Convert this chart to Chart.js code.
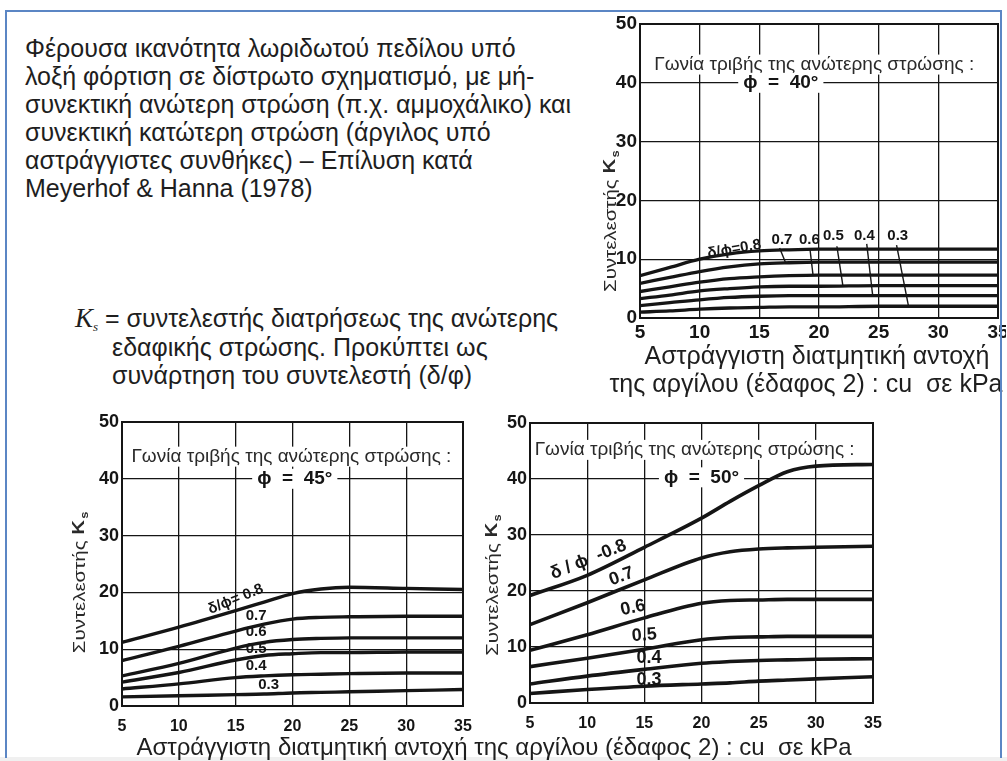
<!DOCTYPE html>
<html>
<head>
<meta charset="utf-8">
<script src="https://cdn.jsdelivr.net/npm/chart.js@4.4.1/dist/chart.umd.min.js"></script>
<style>
  body { margin: 0; background: #fff; font-family: "Liberation Sans", Arial, sans-serif; }
  #page { position: relative; width: 1007px; height: 761px; overflow: hidden; background: #fff; }
  #frame { position: absolute; left: 5px; top: 10px; width: 993px; height: 746px; border: 2px solid #5b86c4; border-bottom: none; z-index: 5; pointer-events: none; }
  #strip { position: absolute; left: 0; top: 757px; width: 1007px; height: 4px; background: #f0f0f0; }
  canvas { position: absolute; }
  .t { position: absolute; color: #1e1e1e; white-space: nowrap; }
  .intro { left: 25px; top: 34px; font-size: 25px; line-height: 28px; }
  .ks { left: 75px; top: 304px; font-size: 25px; line-height: 28.5px; }
  .ks .k { font-family: "Liberation Serif", "Times New Roman", serif; font-style: italic; font-size: 27px; line-height: 0; }
  .ks .k sub { font-size: 13px; line-height: 0; vertical-align: baseline; position: relative; top: 4px; }
  .ctr { transform: translateX(-50%); text-align: center; font-size: 25px; line-height: 28px; }
</style>
</head>
<body>
<div id="page">
  <div id="frame"></div>
  <div id="strip"></div>

  <div class="t intro">Φέρουσα ικανότητα λωριδωτού πεδίλου υπό<br>λοξή φόρτιση σε δίστρωτο σχηματισμό, με μή-<br>συνεκτική ανώτερη στρώση (π.χ. αμμοχάλικο) και<br>συνεκτική κατώτερη στρώση (άργιλος υπό<br>αστράγγιστες συνθήκες) – Επίλυση κατά<br>Meyerhof &amp; Hanna (1978)</div>

  <div class="t ks"><span class="k">K<sub>s</sub></span> = συντελεστής διατρήσεως της ανώτερης<br><span style="padding-left:37px">εδαφικής στρώσης. Προκύπτει ως</span><br><span style="padding-left:37px">συνάρτηση του συντελεστή (δ/φ)</span></div>

  <canvas id="c40" width="428" height="332" style="left:578px;top:12px"></canvas>
  <canvas id="c45" width="430" height="335" style="left:50px;top:408px"></canvas>
  <canvas id="c50" width="430" height="335" style="left:470px;top:408px"></canvas>

  <div class="t ctr" style="left:817px;top:341px">Αστράγγιστη διατμητική αντοχή</div>
  <div class="t ctr" style="left:806px;top:369px">της αργίλου (έδαφος 2) : cu&nbsp; σε kPa</div>
  <div class="t ctr" style="left:494px;top:733px;font-size:24px">Αστράγγιστη διατμητική αντοχή της αργίλου (έδαφος 2) : cu&nbsp; σε kPa</div>
</div>

<script>
// undrained shear strength cu (kPa) sampled along each chart
const cu40 = [5, 7.5, 10, 12.5, 15, 17.5, 20, 25, 30, 35];
const cu45 = [5, 10, 15, 17.5, 20, 22.5, 25, 30, 35];
const cu50 = [5, 10, 15, 20, 22.5, 25, 27.5, 30, 35];

const ratios = ["0.8", "0.7", "0.6", "0.5", "0.4", "0.3"];

// Ks curves, phi = 40 deg
const ks40_08 = [7.2, 8.6, 10.0, 10.9, 11.4, 11.6, 11.7, 11.7, 11.7, 11.7];
const ks40_07 = [5.9, 6.9, 7.9, 8.7, 9.2, 9.4, 9.5, 9.5, 9.5, 9.5];
const ks40_06 = [4.5, 5.3, 6.1, 6.7, 7.0, 7.2, 7.3, 7.3, 7.3, 7.3];
const ks40_05 = [3.3, 3.9, 4.6, 5.0, 5.3, 5.4, 5.4, 5.5, 5.5, 5.5];
const ks40_04 = [2.1, 2.6, 3.1, 3.5, 3.7, 3.8, 3.8, 3.8, 3.8, 3.8];
const ks40_03 = [1.0, 1.2, 1.5, 1.7, 1.8, 1.9, 1.9, 2.0, 2.0, 2.0];

// Ks curves, phi = 45 deg
const ks45_08 = [11.2, 13.9, 16.8, 18.3, 19.8, 20.6, 20.9, 20.7, 20.5];
const ks45_07 = [8.0, 10.5, 13.2, 14.4, 15.3, 15.6, 15.7, 15.8, 15.8];
const ks45_06 = [5.3, 7.5, 10.2, 11.2, 11.7, 11.9, 12.0, 12.0, 12.0];
const ks45_05 = [4.2, 5.9, 8.1, 8.9, 9.2, 9.4, 9.4, 9.5, 9.5];
const ks45_04 = [3.0, 3.9, 5.0, 5.3, 5.5, 5.6, 5.7, 5.8, 5.8];
const ks45_03 = [1.6, 1.8, 2.0, 2.1, 2.3, 2.4, 2.5, 2.7, 2.9];

// Ks curves, phi = 50 deg
const ks50_08 = [19.2, 22.8, 27.8, 33.0, 36.0, 38.8, 41.3, 42.3, 42.6];
const ks50_07 = [14.0, 17.9, 22.0, 25.9, 27.0, 27.5, 27.7, 27.8, 28.0];
const ks50_06 = [9.4, 12.2, 15.2, 17.8, 18.3, 18.4, 18.5, 18.5, 18.5];
const ks50_05 = [6.5, 8.0, 9.6, 11.3, 11.7, 11.8, 11.9, 11.9, 11.9];
const ks50_04 = [3.4, 4.8, 6.0, 7.1, 7.4, 7.6, 7.7, 7.8, 7.9];
const ks50_03 = [1.7, 2.4, 3.0, 3.4, 3.6, 3.9, 4.1, 4.3, 4.7];

const xTicks = [5, 10, 15, 20, 25, 30, 35];
const yTicks = [0, 10, 20, 30, 40, 50];

const angleText = "Γωνία τριβής της ανώτερης στρώσης :";
const yTitle = "Συντελεστής ";

const ink = "#151515";
const sans = "'Liberation Sans', Arial, sans-serif";

// draws frame, texts, curve labels and leaders on top of the plot
const decor = {
  id: "decor",
  afterDraw(chart, args, o) {
    const { ctx, chartArea: a } = chart;
    const x = chart.scales.x, y = chart.scales.y;
    const px = v => x.getPixelForValue(v);
    const py = v => y.getPixelForValue(v);
    ctx.save();

    ctx.strokeStyle = ink;
    ctx.lineWidth = 2;
    ctx.strokeRect(a.left, a.top, a.right - a.left, a.bottom - a.top);

    ctx.textBaseline = "middle";
    ctx.textAlign = "center";

    // heading inside plot
    ctx.font = "19px " + sans;
    let w = ctx.measureText(angleText).width;
    ctx.fillStyle = "#fff";
    ctx.fillRect(px(o.head[0]) - w / 2 - 3, py(o.head[1]) - 10, w + 6, 20);
    ctx.fillStyle = "#2a2a2a";
    ctx.fillText(angleText, px(o.head[0]), py(o.head[1]));

    // phi label on the 40 line
    ctx.font = "bold 19px " + sans;
    const phiTxt = "\u03D5  =  " + o.phi + "\u00B0";
    w = ctx.measureText(phiTxt).width;
    ctx.fillStyle = "#fff";
    ctx.fillRect(px(o.phiAt[0]) - w / 2 - 5, py(o.phiAt[1]) - 10, w + 10, 20);
    ctx.fillStyle = ink;
    ctx.fillText(phiTxt, px(o.phiAt[0]), py(o.phiAt[1]));

    // leaders
    ctx.strokeStyle = ink;
    ctx.lineWidth = 1.4;
    (o.leaders || []).forEach(l => {
      ctx.beginPath();
      ctx.moveTo(px(l[0]), py(l[1]));
      ctx.lineTo(px(l[2]), py(l[3]));
      ctx.stroke();
    });

    // curve labels
    o.labels.forEach((l, i) => {
      const txt = (i === 0 ? o.firstPrefix : "") + ratios[i];
      ctx.save();
      ctx.translate(px(l[0]), py(l[1]));
      ctx.rotate((l[2] || 0) * Math.PI / 180);
      ctx.font = o.labFont;
      ctx.fillStyle = ink;
      ctx.fillText(txt, 0, 0);
      ctx.restore();
    });

    // rotated y title: "Συντελεστής Ks", stretched along its length like the scan
    const yFont = "16px " + sans;
    ctx.save();
    ctx.translate(a.left - o.yOff, py(o.yMid));
    ctx.rotate(-Math.PI / 2);
    ctx.scale(1.28, 1);
    ctx.textAlign = "left";
    ctx.font = yFont;
    const w1 = ctx.measureText(yTitle).width;
    ctx.font = "bold " + yFont;
    const w2 = ctx.measureText("K").width;
    const total = w1 + w2 + 6;
    const sx = -total / 2;
    ctx.fillStyle = "#2a2a2a";
    ctx.font = yFont;
    ctx.fillText(yTitle, sx, 0);
    ctx.font = "bold " + yFont;
    ctx.fillText("K", sx + w1, -1);
    ctx.font = "bold 10px " + sans;
    ctx.fillText("s", sx + w1 + w2 + 1, 4);
    ctx.restore();

    ctx.restore();
  }
};

function makeChart(id, xs, series, opt) {
  const datasets = series.map(s => ({
    data: xs.map((v, i) => ({ x: v, y: s[i] })),
    borderColor: ink,
    borderWidth: opt.lw,
    pointRadius: 0,
    cubicInterpolationMode: "monotone",
    fill: false
  }));
  const tickFont = { family: sans, size: opt.tick, weight: "bold" };
  return new Chart(document.getElementById(id), {
    type: "line",
    data: { datasets },
    options: {
      responsive: false,
      animation: false,
      layout: { padding: opt.pad },
      plugins: { legend: { display: false }, tooltip: { enabled: false }, decor: opt },
      scales: {
        x: {
          type: "linear", min: 5, max: 35,
          afterBuildTicks: s => { s.ticks = xTicks.map(v => ({ value: v })); },
          ticks: { font: tickFont, color: ink, padding: opt.xpad, maxRotation: 0 },
          grid: { color: ink, lineWidth: 1.3, drawTicks: false },
          border: { color: ink, width: 2 },
          afterFit: s => { s.height = opt.xh; s.paddingLeft = 0; s.paddingRight = 0; }
        },
        y: {
          min: 0, max: 50,
          afterBuildTicks: s => { s.ticks = yTicks.map(v => ({ value: v })); },
          ticks: { font: { family: sans, size: opt.ytick, weight: "bold" }, color: ink, padding: 3 },
          grid: { color: ink, lineWidth: 1.3, drawTicks: false },
          border: { color: ink, width: 2 },
          afterFit: s => { s.width = opt.yw; s.paddingTop = 0; s.paddingBottom = 0; }
        }
      }
    },
    plugins: [decor]
  });
}

makeChart("c40", cu40, [ks40_08, ks40_07, ks40_06, ks40_05, ks40_04, ks40_03], {
  pad: { top: 12, left: 0, right: 8, bottom: 0 }, yw: 62, xh: 26, xpad: 3, tick: 19, ytick: 19, lw: 3.3,
  phi: 40, phiAt: [16.8, 40], head: [19.6, 43.1],
  labFont: "bold 15px " + sans,
  firstPrefix: "\u03B4/\u03D5=",
  labels: [[12.9, 11.7, -10], [16.9, 13.3], [19.2, 13.3], [21.2, 13.9], [23.8, 14.0], [26.6, 14.0]],
  leaders: [[16.7, 11.9, 17.2, 9.4], [19.25, 11.6, 19.5, 7.3], [21.5, 12.2, 22.0, 5.5], [24.0, 12.6, 24.5, 3.8], [26.5, 12.4, 27.5, 2.0]],
  yOff: 28, yMid: 16.4
});

makeChart("c45", cu45, [ks45_08, ks45_07, ks45_06, ks45_05, ks45_04, ks45_03], {
  pad: { top: 14, left: 0, right: 17, bottom: 0 }, yw: 72, xh: 37, xpad: 11, tick: 16, ytick: 18, lw: 3.4,
  phi: 45, phiAt: [20.2, 40], head: [19.9, 43.9],
  labFont: "bold 15px " + sans,
  firstPrefix: "\u03B4/\u03D5= ",
  labels: [[15.0, 18.8, -22], [16.8, 15.8], [16.8, 13.0], [16.8, 10.0], [16.8, 7.0], [17.9, 3.8]],
  leaders: [],
  yOff: 41, yMid: 21.7
});

makeChart("c50", cu50, [ks50_08, ks50_07, ks50_06, ks50_05, ks50_04, ks50_03], {
  pad: { top: 15, left: 0, right: 27, bottom: 0 }, yw: 60, xh: 40, xpad: 11, tick: 16, ytick: 18, lw: 3.6,
  phi: 50, phiAt: [20.0, 40.3], head: [19.4, 45.2],
  labFont: "bold 18px " + sans,
  firstPrefix: "\u03B4 / \u03D5  -",
  labels: [[10.1, 25.6, -22], [13.0, 22.6, -20], [14.0, 17.0, -12], [15.0, 12.1, -5], [15.4, 8.0], [15.4, 4.1]],
  leaders: [],
  yOff: 36, yMid: 21
});
</script>
</body>
</html>
